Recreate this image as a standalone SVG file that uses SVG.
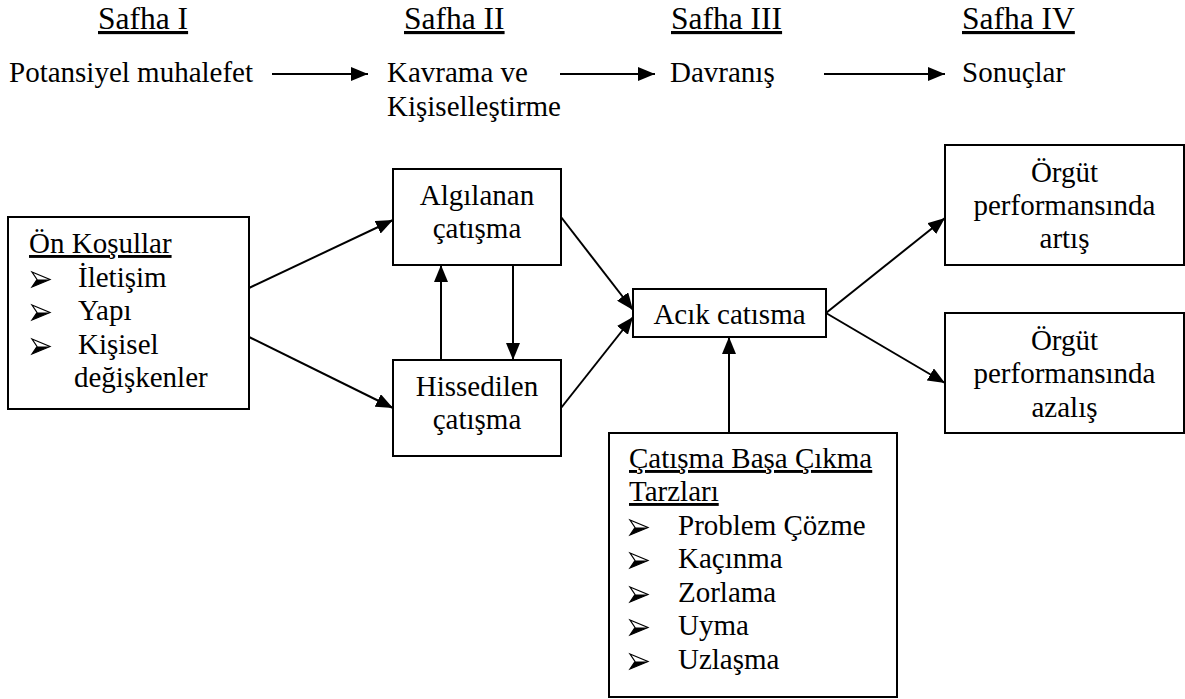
<svg xmlns="http://www.w3.org/2000/svg" width="1185" height="699" viewBox="0 0 1185 699">
  <style>
    text { font-family: "Liberation Serif", "Times New Roman", serif; font-size: 29px; fill: #000; }
    .head { font-size: 31.5px; text-decoration: underline; }
    .ul { text-decoration: underline; }
    .mid { text-anchor: middle; }
    .box { fill: #fff; stroke: #000; stroke-width: 2; }
    .edge { fill: none; stroke: #000; stroke-width: 2; marker-end: url(#tip); }
  </style>
  <defs>
    <marker id="tip" markerUnits="userSpaceOnUse" markerWidth="17" markerHeight="14" refX="17" refY="7" orient="auto">
      <path d="M0,0 L17,7 L0,14 Z" fill="#000"/>
    </marker>
    <!-- arrowhead bullet: light upper facet, dark lower facet -->
    <g id="bullet">
      <path d="M0,0 L18,7.5 L0,15 L5,7.5 Z" fill="#fff" stroke="#000" stroke-width="1.2" stroke-linejoin="miter"/>
      <path d="M5,7.5 L18,7.5 L0,15 Z" fill="#000"/>
    </g>
  </defs>

  <!-- stage headings and stage flow -->
  <g id="stages">
    <text class="head" x="98" y="29">Safha I</text>
    <text class="head" x="404" y="29">Safha II</text>
    <text class="head" x="671" y="29">Safha III</text>
    <text class="head" x="962" y="29">Safha IV</text>
    <text x="9" y="82">Potansiyel muhalefet</text>
    <text x="387" y="82">Kavrama ve</text>
    <text x="387" y="116">Kişiselleştirme</text>
    <text x="670" y="82">Davranış</text>
    <text x="962" y="82">Sonuçlar</text>
  </g>

  <g id="connectors">
    <line class="edge" x1="272" y1="74" x2="368" y2="74"/>
    <line class="edge" x1="560" y1="74" x2="655" y2="74"/>
    <line class="edge" x1="824" y1="74" x2="945" y2="74"/>
    <line class="edge" x1="249" y1="288" x2="393" y2="220"/>
    <line class="edge" x1="249" y1="337" x2="393" y2="408"/>
    <line class="edge" x1="441" y1="360" x2="441" y2="265"/>
    <line class="edge" x1="513" y1="265" x2="513" y2="360"/>
    <line class="edge" x1="561" y1="217" x2="633" y2="310"/>
    <line class="edge" x1="561" y1="408" x2="633" y2="317"/>
    <line class="edge" x1="729" y1="433" x2="729" y2="337"/>
    <line class="edge" x1="826" y1="313" x2="945" y2="218"/>
    <line class="edge" x1="826" y1="313" x2="945" y2="383"/>
  </g>

  <g id="on-kosullar">
    <rect class="box" x="8" y="217" width="241" height="192"/>
    <text class="ul" x="29" y="253">Ön Koşullar</text>
    <use href="#bullet" x="32" y="272"/>
    <text x="78" y="287">İletişim</text>
    <use href="#bullet" x="32" y="305"/>
    <text x="78" y="320">Yapı</text>
    <use href="#bullet" x="32" y="339"/>
    <text x="78" y="354">Kişisel</text>
    <text x="74" y="387">değişkenler</text>
  </g>

  <g id="algilanan">
    <rect class="box" x="393" y="169" width="168" height="96"/>
    <text class="mid" x="477" y="205">Algılanan</text>
    <text class="mid" x="477" y="238">çatışma</text>
  </g>

  <g id="hissedilen">
    <rect class="box" x="393" y="360" width="168" height="96"/>
    <text class="mid" x="477" y="396">Hissedilen</text>
    <text class="mid" x="477" y="429">çatışma</text>
  </g>

  <g id="acik-catisma">
    <rect class="box" x="633" y="289" width="193" height="48"/>
    <text class="mid" x="729.5" y="324">Acık catısma</text>
  </g>

  <g id="basa-cikma">
    <rect class="box" x="609" y="433" width="288" height="264"/>
    <text class="ul" x="629" y="468">Çatışma Başa Çıkma</text>
    <text class="ul" x="629" y="501">Tarzları</text>
    <use href="#bullet" x="630" y="520"/>
    <text x="678" y="535">Problem Çözme</text>
    <use href="#bullet" x="630" y="553"/>
    <text x="678" y="568">Kaçınma</text>
    <use href="#bullet" x="630" y="587"/>
    <text x="678" y="602">Zorlama</text>
    <use href="#bullet" x="630" y="620"/>
    <text x="678" y="635">Uyma</text>
    <use href="#bullet" x="630" y="654"/>
    <text x="678" y="669">Uzlaşma</text>
  </g>

  <g id="performans-artis">
    <rect class="box" x="945" y="145" width="239" height="120"/>
    <text class="mid" x="1064.5" y="182">Örgüt</text>
    <text class="mid" x="1064.5" y="215">performansında</text>
    <text class="mid" x="1064.5" y="248">artış</text>
  </g>

  <g id="performans-azalis">
    <rect class="box" x="945" y="313" width="239" height="120"/>
    <text class="mid" x="1064.5" y="350">Örgüt</text>
    <text class="mid" x="1064.5" y="383">performansında</text>
    <text class="mid" x="1064.5" y="417">azalış</text>
  </g>
</svg>
